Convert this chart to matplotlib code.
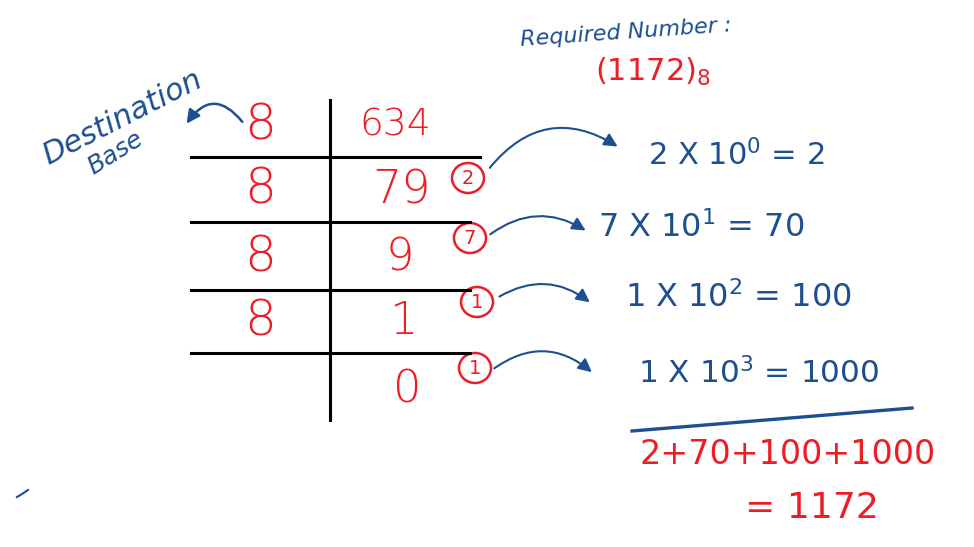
import matplotlib
matplotlib.use("Agg")
import matplotlib.pyplot as plt
from matplotlib.patches import FancyArrowPatch, Ellipse

# ---- data ----
base = 8
dividends = [634, 79, 9, 1, 0]
remainders = [2, 7, 1, 1]
powers = [0, 1, 2, 3]
terms = [2, 70, 100, 1000]
result = 1172

RED = "#ee1c24"
BLUE = "#1d4f91"
BLACK = "#000000"

fig = plt.figure(figsize=(9.74, 5.47), dpi=100)
ax = fig.add_axes([0, 0, 1, 1])
ax.set_xlim(0, 974)
ax.set_ylim(547, 0)
ax.axis("off")

FONT = "DejaVu Sans"

# ---- division table ----
ax.plot([330, 330], [100, 420], color=BLACK, lw=2.2)
hline_y = [157, 222, 290, 353]
hline_x1 = [480, 470, 470, 470]
for y, x1 in zip(hline_y, hline_x1):
    ax.plot([191, x1], [y, y], color=BLACK, lw=2.2)

row_y = [125, 190, 258, 322, 390]
div_sizes = [27, 33, 32, 32, 32]
div_x = [395, 402, 400, 403, 407]
for i in range(len(dividends) - 1):
    ax.text(260, row_y[i], str(base), color=RED, fontsize=36, ha="center",
            va="center", family=FONT, fontweight="light")
for i, d in enumerate(dividends):
    ax.text(div_x[i], row_y[i], str(d), color=RED, fontsize=div_sizes[i],
            ha="center", va="center", family=FONT, fontweight="light")

# remainders, circled
circ = [(468, 178), (470, 238), (477, 302), (475, 368)]
for (cx, cy), r in zip(circ, remainders):
    ax.add_patch(Ellipse((cx, cy), 32, 30, fill=False, ec=RED, lw=1.8))
    ax.text(cx, cy, str(r), color=RED, fontsize=14, ha="center", va="center",
            family=FONT)

# curved arrows from remainders to terms
arrows = [((488, 170), (620, 148), -0.45),
          ((488, 236), (588, 232), -0.35),
          ((497, 298), (592, 304), -0.35),
          ((492, 370), (594, 374), -0.4)]
for (p0, p1, rad) in arrows:
    ax.add_patch(FancyArrowPatch(p0, p1, connectionstyle=f"arc3,rad={rad}",
                                 arrowstyle="-|>,head_length=8,head_width=4",
                                 color=BLUE, lw=1.5, mutation_scale=1))

# terms
term_pos = [(648, 155), (598, 228), (625, 298), (638, 373)]
term_sizes = [22, 23, 23, 22.5]
for (x, y), r, p, t, s in zip(term_pos, remainders, powers, terms, term_sizes):
    ax.text(x, y, f"{r} X 10$^{{{p}}}$ = {t}", color=BLUE, fontsize=s,
            ha="left", va="center", family=FONT)

# sum line
ax.plot([632, 912], [431, 408], color=BLUE, lw=2.4)
ax.text(640, 455, "+".join(str(t) for t in terms), color=RED, fontsize=24,
        ha="left", va="center", family=FONT)
ax.text(745, 508, f"= {result}", color=RED, fontsize=26, ha="left",
        va="center", family=FONT)

# heading
ax.text(520, 33, "Required Number :", color=BLUE, fontsize=16, ha="left",
        va="center", family=FONT, style="italic", rotation=4)
ax.text(595, 72, f"({result})$_{{{base}}}$", color=RED, fontsize=22,
        ha="left", va="center", family=FONT)

# destination base note
ax.text(122, 118, "Destination", color=BLUE, fontsize=22, ha="center",
        va="center", family=FONT, style="italic", rotation=27)
ax.text(115, 153, "Base", color=BLUE, fontsize=18, ha="center",
        va="center", family=FONT, style="italic", rotation=32)
ax.add_patch(FancyArrowPatch((244, 124), (185, 126),
                             connectionstyle="arc3,rad=0.7",
                             arrowstyle="-|>,head_length=8,head_width=4",
                             color=BLUE, lw=1.8, mutation_scale=1))

# stray mark
ax.plot([17, 22, 28], [497, 494, 490], color=BLUE, lw=1.5)

fig.savefig("out.png", dpi=100)
